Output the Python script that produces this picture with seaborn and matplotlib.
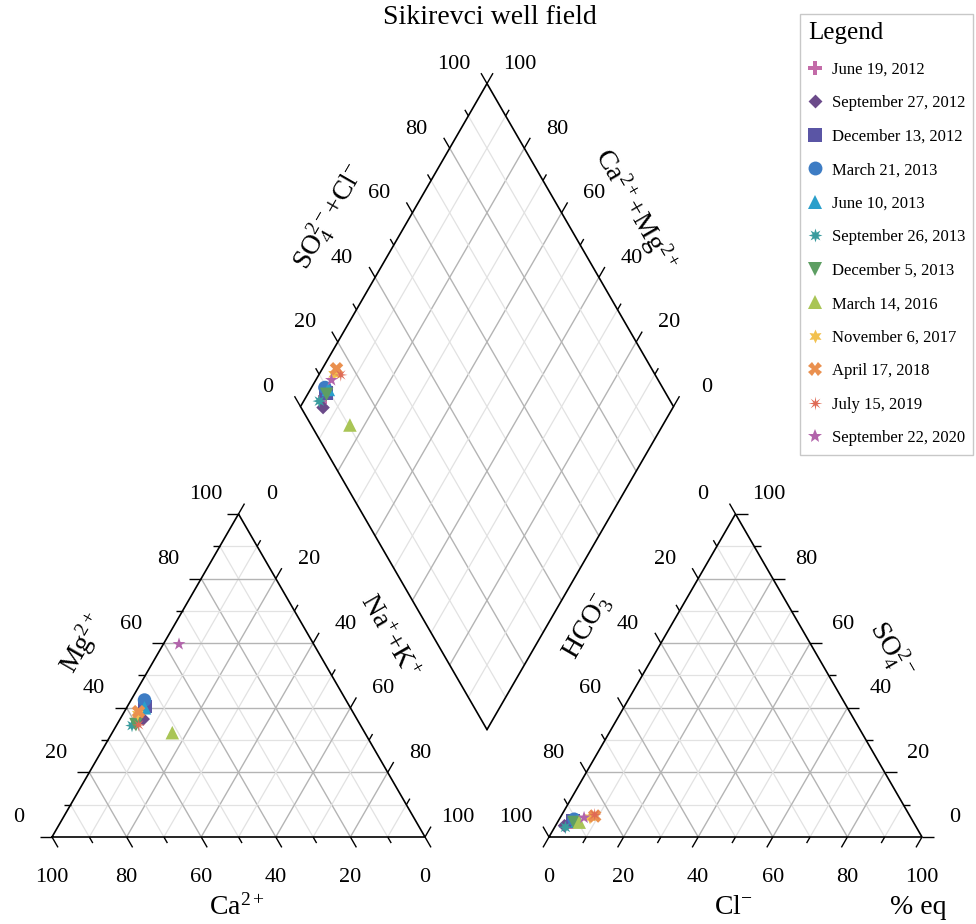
"""
Piper diagram for the Sikirevci well field samples.
"""

import numpy as np
import pandas as pd
import matplotlib
matplotlib.use("Agg")
import matplotlib.pyplot as plt
import matplotlib.path as mpath
import seaborn as sns

# ---- data (percent of meq) ----
samples = ['June 19, 2012', 'September 27, 2012', 'December 13, 2012',
           'March 21, 2013', 'June 10, 2013', 'September 26, 2013',
           'December 5, 2013', 'March 14, 2016', 'November 6, 2017',
           'April 17, 2018', 'July 15, 2019', 'September 22, 2020']
ca = [58.0, 57.3, 54.8, 54.0, 55.2, 61.3, 60.1, 51.6, 58.0, 57.4, 59.4, 36.1]
mg = [37.0, 36.5, 40.4, 42.4, 40.0, 34.5, 34.8, 32.3, 38.0, 38.8, 34.7, 59.7]
na_k = [5.0, 6.2, 4.8, 3.6, 4.8, 4.2, 5.1, 16.1, 4.0, 3.8, 5.9, 4.2]
hco3 = [92.0, 94.1, 91.0, 90.5, 89.9, 94.1, 91.1, 89.6, 86.0, 84.5, 84.3, 87.6]
cl = [3.5, 2.4, 4.0, 4.0, 5.1, 2.9, 4.4, 5.8, 8.0, 9.0, 8.8, 6.4]
so4 = [4.5, 3.5, 5.0, 5.5, 5.0, 3.0, 4.5, 4.6, 6.0, 6.5, 6.9, 6.0]

colors = ['#c36ba8', '#6b4a8a', '#5a55a5', '#3d7cc4', '#2a9fcb', '#3a9c9e',
          '#5d9e62', '#a9c556', '#f2c14e', '#ea904f', '#df6a55', '#b264ab']
diamond = mpath.Path([(0, 1), (1, 0), (0, -1), (-1, 0), (0, 1)], closed=True)
markers = ['P', diamond, 's', 'o', '^', mpath.Path.unit_regular_star(8, 0.45),
           'v', '^', mpath.Path.unit_regular_star(6, 0.5), 'X',
           mpath.Path.unit_regular_star(8, 0.3), '*']

# ---- geometry (side of a triangle = 1) ----
H = np.sqrt(3) / 2
GAP = 124 / 373
X2 = 1 + GAP                 # left corner of the anion triangle
BX, BY = 1 + GAP / 2, GAP * H  # bottom corner of the diamond
PX = 373                     # pixels per unit


def cat_xy(mg_f, na_f):
    return na_f + mg_f / 2, mg_f * H


def an_xy(so4_f, cl_f):
    return X2 + cl_f + so4_f / 2, so4_f * H


def dia_xy(a, b):
    # a = Na+K fraction, b = SO4+Cl fraction
    return BX - 0.5 * (1 - a) + 0.5 * b, BY + H * (1 - a) + H * b


sns.set_style('white')
plt.rcParams['font.family'] = ['Liberation Serif', 'DejaVu Serif']
plt.rcParams['text.color'] = 'black'
plt.rcParams['mathtext.fontset'] = 'custom'
plt.rcParams['mathtext.rm'] = 'Liberation Serif'
plt.rcParams['mathtext.it'] = 'Liberation Serif:italic'
plt.rcParams['mathtext.bf'] = 'Liberation Serif:bold'

fig = plt.figure(figsize=(9.76, 9.24), dpi=100)
ax = fig.add_axes([0, 0, 1, 1])
ax.axis('off')

MAJ, MIN = '#b4b4b4', '#e2e2e2'
levels = np.arange(1, 10) / 10


def seg(p, q, **kw):
    ax.plot([p[0], q[0]], [p[1], q[1]], solid_capstyle='butt', **kw)


def grid_style(v):
    major = round(v * 10) % 2 == 0
    return dict(color=MAJ if major else MIN, lw=1.0 if major else 0.9, zorder=1)


# grid lines
for v in levels:
    st = grid_style(v)
    # cation triangle
    seg(cat_xy(v, 0), cat_xy(v, 1 - v), **st)          # Mg = v
    seg(cat_xy(1 - v, 0), cat_xy(0, 1 - v), **st)      # Ca = v
    seg(cat_xy(0, v), cat_xy(1 - v, v), **st)          # Na+K = v
    # anion triangle
    seg(an_xy(v, 0), an_xy(v, 1 - v), **st)            # SO4 = v
    seg(an_xy(0, v), an_xy(1 - v, v), **st)            # Cl = v
    seg(an_xy(1 - v, 0), an_xy(0, 1 - v), **st)        # HCO3 = v
    # diamond
    seg(dia_xy(v, 0), dia_xy(v, 1), **st)
    seg(dia_xy(0, v), dia_xy(1, v), **st)

# outlines
outline = dict(color='black', lw=1.2, zorder=3)
for tri in ([cat_xy(0, 0), cat_xy(0, 1), cat_xy(1, 0)],
            [an_xy(0, 0), an_xy(0, 1), an_xy(1, 0)],
            [dia_xy(1, 0), dia_xy(0, 0), dia_xy(0, 1), dia_xy(1, 1)]):
    pts = np.array(tri + [tri[0]])
    ax.plot(pts[:, 0], pts[:, 1], **outline)

# ticks and tick labels
U1 = np.array([-0.5, H])
U2 = np.array([0.5, H])
LX, LY, LB = 33 / PX, 19 / PX, 40 / PX
tick_vals = np.arange(0, 11) / 10
fs_tick = 16


def tick(p, d, v):
    length = (12 if round(v * 10) % 2 == 0 else 7) / PX
    p = np.array(p)
    q = p + np.array(d) * length
    seg(p, q, color='black', lw=1.0, zorder=3)


def label(x, y, v):
    ax.text(x, y, f'{round(v * 100)}', ha='center', va='center', fontsize=fs_tick)


for v in tick_vals:
    show = round(v * 10) % 2 == 0
    # cation: Ca along bottom, Mg on left, Na+K on right
    p = cat_xy(0, 1 - v)
    tick(p, (0.5, -H), v)
    if show:
        label(p[0], p[1] - LB, v)
    p = cat_xy(v, 0)
    tick(p, (-1, 0), v)
    if show:
        label(p[0] - LX, p[1] + LY, v)
    p = cat_xy(1 - v, v)
    tick(p, (0.5, H), v)
    if show:
        label(p[0] + LX, p[1] + LY, v)
    # anion: Cl along bottom, HCO3 on left, SO4 on right
    p = an_xy(0, v)
    tick(p, (-0.5, -H), v)
    if show:
        label(p[0], p[1] - LB, v)
    p = an_xy(1 - v, 0)
    tick(p, (-0.5, H), v)
    if show:
        label(p[0] - LX, p[1] + LY, v)
    p = an_xy(v, 1 - v)
    tick(p, (1, 0), v)
    if show:
        label(p[0] + LX, p[1] + LY, v)
    # diamond: SO4+Cl upper left, Ca+Mg upper right
    p = dia_xy(0, v)
    tick(p, U1, v)
    if show:
        label(p[0] - LX, p[1] + LY, v)
    p = dia_xy(1 - v, 1)
    tick(p, U2, v)
    if show:
        label(p[0] + LX, p[1] + LY, v)

# axis names
fs_lab = 20
ax.text(0.496, -0.188, 'Ca$^{2+}$', ha='center', va='center', fontsize=fs_lab)
ax.text(0.083, 0.520, 'Mg$^{2+}$', ha='center', va='center', fontsize=fs_lab, rotation=60)
ax.text(0.901, 0.536, 'Na$^{+}$+K$^{+}$', ha='center', va='center', fontsize=fs_lab, rotation=-60)
ax.text(1.437, 0.563, 'HCO$_3^{-}$', ha='center', va='center', fontsize=fs_lab, rotation=60)
ax.text(2.247, 0.501, 'SO$_4^{2-}$', ha='center', va='center', fontsize=fs_lab, rotation=-60)
ax.text(1.826, -0.188, 'Cl$^{-}$', ha='center', va='center', fontsize=fs_lab)
ax.text(2.322, -0.188, '% eq', ha='center', va='center', fontsize=fs_lab)
ax.text(0.745, 1.662, 'SO$_4^{2-}$+Cl$^{-}$', ha='center', va='center', fontsize=fs_lab, rotation=60)
ax.text(1.563, 1.681, 'Ca$^{2+}$+Mg$^{2+}$', ha='center', va='center', fontsize=fs_lab, rotation=-60)
ax.text(1.174, 2.196, 'Sikirevci well field', ha='center', va='center', fontsize=20)

# ---- points ----
f = lambda a: np.array(a) / 100
cx, cy = cat_xy(f(mg), f(na_k))
axx, ayy = an_xy(f(so4), f(cl))
dx, dy = dia_xy(f(na_k), f(so4) + f(cl))
df = pd.DataFrame({
    'x': np.concatenate([cx, axx, dx]),
    'y': np.concatenate([cy, ayy, dy]),
    'sample': samples * 3,
})

sns.scatterplot(data=df, x='x', y='y', hue='sample', style='sample',
                hue_order=samples, style_order=samples,
                palette=dict(zip(samples, colors)),
                markers=dict(zip(samples, markers)),
                s=95, linewidth=0, zorder=5, ax=ax, legend='full')

old = ax.get_legend()
handles = old.legend_handles
labels = [t.get_text() for t in old.get_texts()]
old.remove()
for h in handles:
    if hasattr(h, 'set_markersize'):
        h.set_markersize(10)
    elif hasattr(h, 'set_sizes'):
        h.set_sizes([95])
leg = ax.legend(handles, labels, title='Legend', loc='upper left',
                bbox_to_anchor=(800 / 976, 1 - 14 / 924),
                bbox_transform=fig.transFigure, borderaxespad=0,
                frameon=True, fancybox=False, edgecolor='#c8c8c8',
                framealpha=1, fontsize=12, title_fontsize=18,
                alignment='left', handlelength=0.8, handletextpad=0.6,
                borderpad=0.5, labelspacing=1.05)
leg.get_frame().set_linewidth(1.0)

ax.set_xlim(-52 / PX, (976 - 52) / PX)
ax.set_ylim(-(924 - 837) / PX, 837 / PX)
fig.savefig('out.png', dpi=100)
